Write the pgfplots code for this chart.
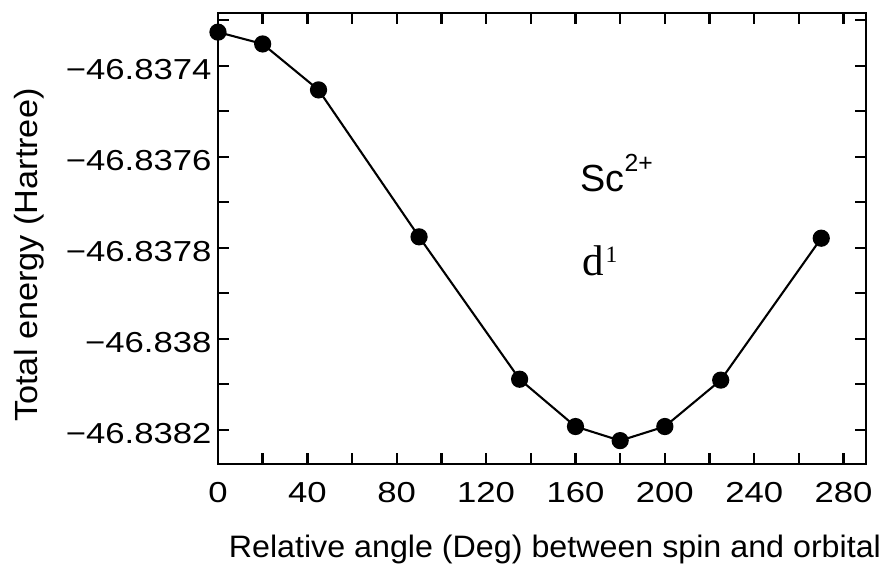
\documentclass[border=0pt]{standalone}
\usepackage{fontspec}
\setmainfont{Liberation Sans}
\newfontfamily\tickfont[FakeStretch=1.2]{Liberation Sans}
\newfontfamily\xlabfont[FakeStretch=1.04]{Liberation Sans}
\newfontfamily\ylabfont[FakeStretch=1.07]{Liberation Sans}
\newfontfamily\seriffont{Liberation Serif}
\usepackage{pgfplots}
\usepackage{pgfplotstable}
\pgfplotsset{compat=1.18}

% energies differ only in the 4th-6th decimal: strip the common "-46.83"
% before pgfplots parses them (the FPU would lose the digits otherwise)
\def\stripE-46.83#1\relax{#1}

\pgfplotstableread{
angle energy
0   -46.837326
20  -46.837352
45  -46.837453
90  -46.837776
135 -46.838089
160 -46.838193
180 -46.838224
200 -46.838193
225 -46.838091
270 -46.837779
}\energydata

\begin{document}
\begin{tikzpicture}
\begin{axis}[
    name=ax,
    scale only axis,
    width=248.8pt, height=173.1pt,
    xmin=0, xmax=290,
    ymin=-46.838275, ymax=-46.837284,
    y coord trafo/.code={\edef\tmpy{#1}\edef\pgfmathresult{-0.\expandafter\stripE\tmpy\relax}},
    clip=false,
    axis line style={line width=1pt},
    every tick/.style={black, line width=0.9pt},
    major tick length=4.2pt, minor tick length=4.2pt,
    xtick={0,40,...,280},
    minor x tick num=1,
    /pgf/number format/assume math mode=true,
    ytick={-46.8382,-46.838,-46.8378,-46.8376,-46.8374},
    yticklabels={−46.8382,−46.838,−46.8378,−46.8376,−46.8374},
    minor ytick={-46.8381,-46.8379,-46.8377,-46.8375,-46.8373},
    xticklabel style={anchor=base, yshift=-15pt, font={\tickfont\fontsize{11.1}{13}\selectfont}},
    yticklabel style={anchor=east, inner sep=0pt, xshift=-2.3pt, yshift=-1.3pt, font={\tickfont\fontsize{11.1}{13}\selectfont}},
    xlabel={Relative angle (Deg) between spin and orbital},
    ylabel={Total energy (Hartree)},
    xlabel style={at={(axis description cs:0.52,-0.208)}, anchor=base, font={\xlabfont\fontsize{11.9}{13}\selectfont}},
    ylabel style={at={(axis description cs:-0.2793,0.463)}, anchor=base, font={\ylabfont\fontsize{12.3}{14}\selectfont}},
]
\addplot[black, line width=0.8pt, mark=*, mark size=2.9pt, mark options={fill=black}]
    table[x=angle, y=energy] {\energydata};

\node[anchor=base west, inner sep=0pt, font=\fontsize{14.5}{16}\selectfont]
    at (rel axis cs:0.5586,0.603) {Sc\raisebox{7.7pt}{\fontsize{9.5}{10}\selectfont 2+}};
\node[anchor=base west, inner sep=0pt, font={\seriffont\fontsize{16.5}{18}\selectfont}]
    at (rel axis cs:0.5617,0.4169) {d\kern0.6pt\raisebox{5pt}{\fontsize{9}{10}\selectfont 1}};
\end{axis}
\pgfresetboundingbox
\path ([shift={(-83.7pt,-38.4pt)}]ax.south west) rectangle ([shift={(7.7pt,5pt)}]ax.north east);
\end{tikzpicture}
\end{document}
